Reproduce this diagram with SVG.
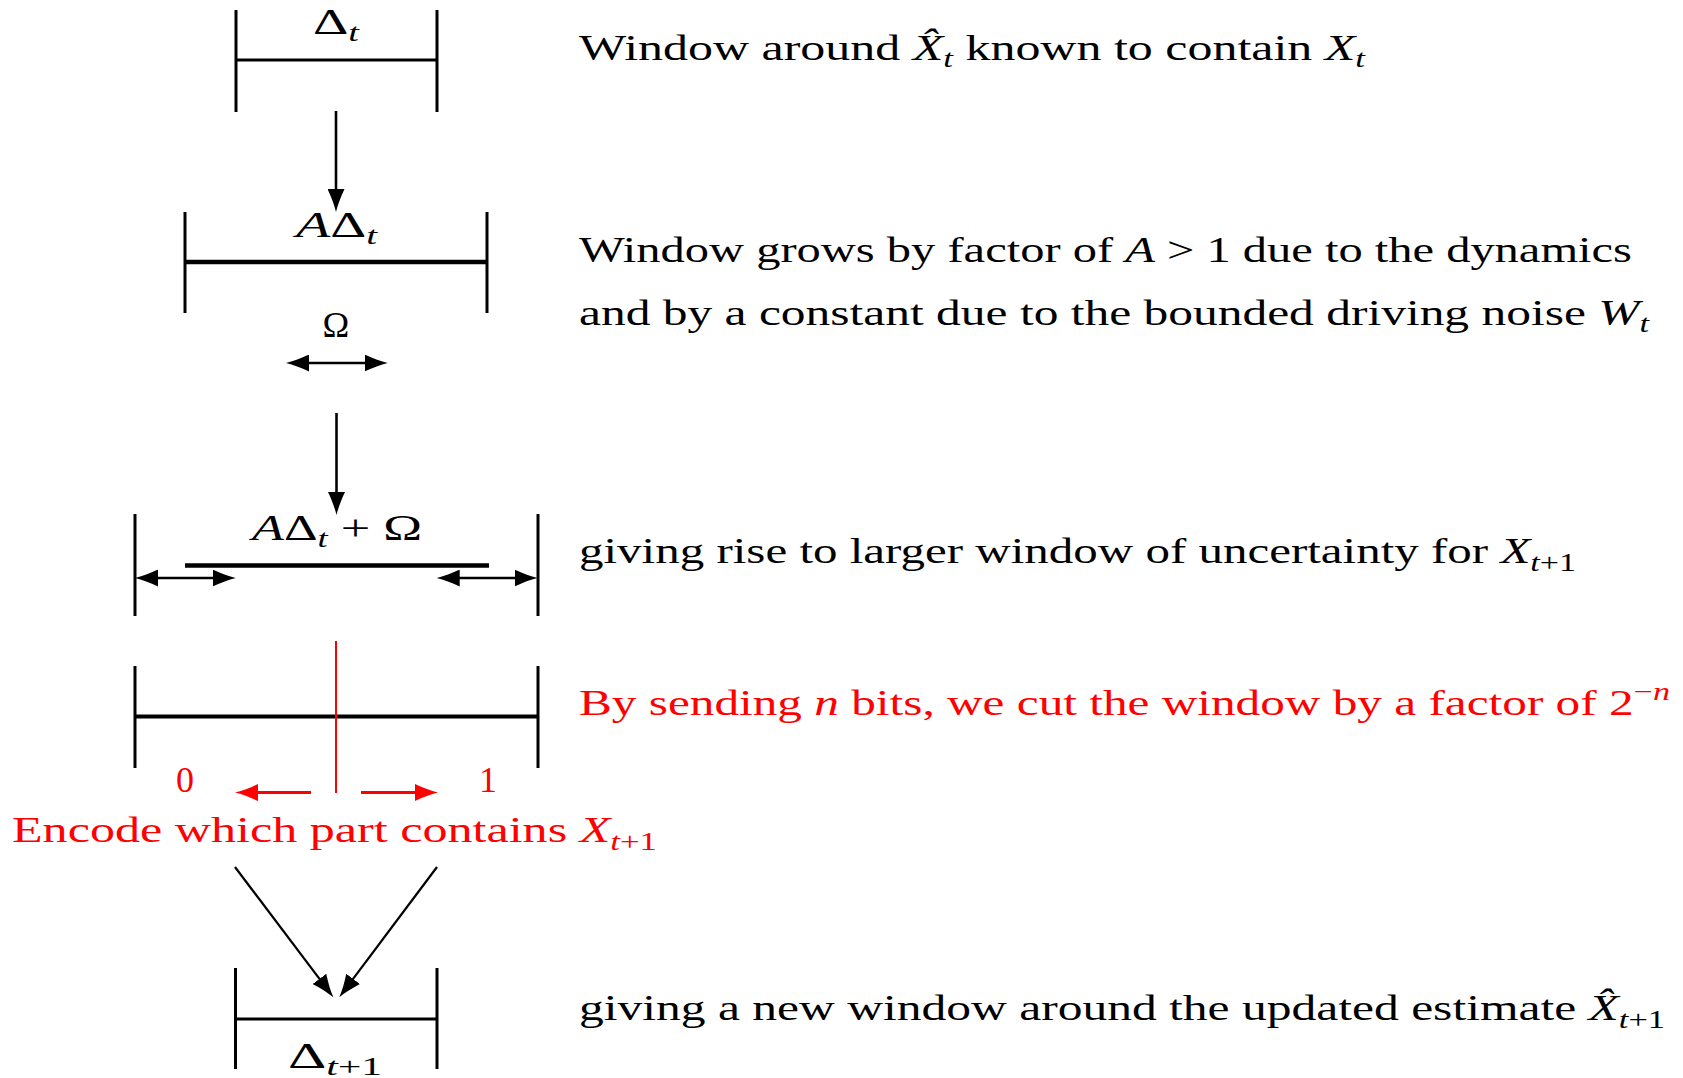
<svg xmlns="http://www.w3.org/2000/svg" width="1683" height="1078" viewBox="0 0 1683 1078">
<style>
.t{font-family:"Liberation Serif","Times New Roman",serif;font-size:36px;fill:#000}
.mi{font-style:italic}
.sub{font-size:25px}
.red{fill:#ff0000}
.bar{stroke:#000;stroke-width:3;fill:none}
.thick{stroke:#000;stroke-width:4.5;fill:none}
.cut{stroke:#ff0000;stroke-width:2;fill:none}
.conn{stroke:#000;stroke-width:2.6;fill:none}
.connr{stroke:#ff0000;stroke-width:3;fill:none}
</style>
<defs>
<marker id="ah" viewBox="0 0 24 17" refX="11" refY="8.5" markerWidth="24" markerHeight="17" markerUnits="userSpaceOnUse" orient="auto-start-reverse">
<path d="M23,8.5 C16,6.8 8,3.8 0,0 L0,17 C8,13.2 16,10.2 23,8.5 Z" fill="#000"/>
</marker>
<marker id="ahr" viewBox="0 0 24 17" refX="11" refY="8.5" markerWidth="24" markerHeight="17" markerUnits="userSpaceOnUse" orient="auto-start-reverse">
<path d="M23,8.5 C16,6.8 8,3.8 0,0 L0,17 C8,13.2 16,10.2 23,8.5 Z" fill="#ff0000"/>
</marker>
</defs>
<rect width="1683" height="1078" fill="#fff"/>

<g id="window1">
<line class="bar" x1="236" y1="10" x2="236" y2="112"/>
<line class="bar" x1="437" y1="10" x2="437" y2="112"/>
<line class="bar" x1="236" y1="60" x2="437" y2="60"/>
<text class="t" x="313" y="34" textLength="46" lengthAdjust="spacingAndGlyphs">Δ<tspan class="sub mi" dy="7">t</tspan></text>
</g>

<g id="window2">
<line class="bar" x1="185" y1="212" x2="185" y2="313"/>
<line class="bar" x1="487" y1="212" x2="487" y2="313"/>
<line class="thick" x1="185" y1="262" x2="487" y2="262"/>
<text class="t" x="296" y="237" textLength="81" lengthAdjust="spacingAndGlyphs"><tspan class="mi">A</tspan>Δ<tspan class="sub mi" dy="7">t</tspan></text>
</g>

<g id="omega">
<text class="t" x="336" y="337" text-anchor="middle">Ω</text>
</g>

<g id="window3">
<line class="bar" x1="135" y1="514" x2="135" y2="616"/>
<line class="bar" x1="538" y1="514" x2="538" y2="616"/>
<line class="thick" x1="185" y1="565.5" x2="489" y2="565.5"/>
<text class="t" x="252" y="540" textLength="170" lengthAdjust="spacingAndGlyphs"><tspan class="mi">A</tspan>Δ<tspan class="sub mi" dy="7">t</tspan><tspan dy="-7"> + Ω</tspan></text>
</g>

<g id="window4">
<line class="bar" x1="135" y1="666" x2="135" y2="768"/>
<line class="bar" x1="538" y1="666" x2="538" y2="768"/>
<line class="bar" x1="135" y1="716.5" x2="538" y2="716.5" style="stroke-width:4"/>
<line class="cut" x1="336" y1="641" x2="336" y2="793"/>
<text class="t red" x="185" y="792" text-anchor="middle">0</text>
<text class="t red" x="488" y="792" text-anchor="middle">1</text>
</g>

<g id="encode-label">
<text class="t red" x="12" y="842" textLength="645" lengthAdjust="spacingAndGlyphs">Encode which part contains <tspan class="mi">X</tspan><tspan class="sub mi" dy="8">t</tspan><tspan class="sub">+1</tspan></text>
</g>

<g id="window5">
<line class="bar" x1="235.5" y1="968" x2="235.5" y2="1069"/>
<line class="bar" x1="437" y1="968" x2="437" y2="1069"/>
<line class="bar" x1="235.5" y1="1019" x2="437" y2="1019"/>
<text class="t" x="288" y="1068" textLength="94" lengthAdjust="spacingAndGlyphs">Δ<tspan class="sub mi" dy="7">t</tspan><tspan class="sub">+1</tspan></text>
</g>

<g id="descriptions">
<text class="t" x="579" y="60" textLength="786" lengthAdjust="spacingAndGlyphs">Window around <tspan class="mi">X&#x302;</tspan><tspan class="sub mi" dy="7">t</tspan><tspan dy="-7"> known to contain </tspan><tspan class="mi">X</tspan><tspan class="sub mi" dy="7">t</tspan></text>
<text class="t" x="579" y="262" textLength="1053" lengthAdjust="spacingAndGlyphs">Window grows by factor of <tspan class="mi">A</tspan> &gt; 1 due to the dynamics</text>
<text class="t" x="579" y="325" textLength="1070" lengthAdjust="spacingAndGlyphs">and by a constant due to the bounded driving noise <tspan class="mi">W</tspan><tspan class="sub mi" dy="7">t</tspan></text>
<text class="t" x="579" y="563" textLength="997" lengthAdjust="spacingAndGlyphs">giving rise to larger window of uncertainty for <tspan class="mi">X</tspan><tspan class="sub mi" dy="8">t</tspan><tspan class="sub">+1</tspan></text>
<text class="t red" x="579" y="715" textLength="1091" lengthAdjust="spacingAndGlyphs">By sending <tspan class="mi">n</tspan> bits, we cut the window by a factor of 2<tspan class="sub" dy="-15">−</tspan><tspan class="sub mi">n</tspan></text>
<text class="t" x="579" y="1020" textLength="1086" lengthAdjust="spacingAndGlyphs">giving a new window around the updated estimate <tspan class="mi">X&#x302;</tspan><tspan class="sub mi" dy="8">t</tspan><tspan class="sub">+1</tspan></text>
</g>

<g id="connectors">
<line class="conn" x1="336" y1="111" x2="336" y2="200" marker-end="url(#ah)"/>
<line class="conn" x1="298" y1="363" x2="375.7" y2="363" marker-start="url(#ah)" marker-end="url(#ah)"/>
<line class="conn" x1="336.5" y1="413" x2="336.5" y2="503" marker-end="url(#ah)"/>
<line class="conn" x1="147" y1="578" x2="223.7" y2="578" marker-start="url(#ah)" marker-end="url(#ah)"/>
<line class="conn" x1="448.7" y1="578" x2="525.5" y2="578" marker-start="url(#ah)" marker-end="url(#ah)"/>
<line class="connr" x1="311" y1="792.5" x2="247" y2="792.5" marker-end="url(#ahr)"/>
<line class="connr" x1="361" y1="792.5" x2="426" y2="792.5" marker-end="url(#ahr)"/>
<line class="conn" x1="235" y1="867" x2="326.1" y2="987.7" style="stroke-width:2.2" marker-end="url(#ah)"/>
<line class="conn" x1="437" y1="867" x2="346.5" y2="987.7" style="stroke-width:2.2" marker-end="url(#ah)"/>
</g>
</svg>
